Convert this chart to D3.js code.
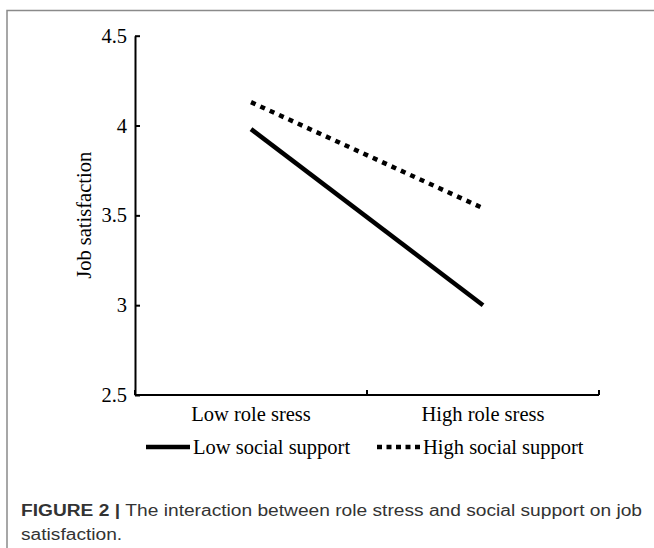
<!DOCTYPE html>
<html>
<head>
<meta charset="utf-8">
<script src="https://cdn.jsdelivr.net/npm/d3@7"></script>
<style>
  html, body { margin: 0; padding: 0; background: #fff; }
  svg { display: block; }
</style>
</head>
<body>
<svg id="chart" width="654" height="548"></svg>
<script>
// ---- data ----
const categories = ["Low role sress", "High role sress"];
const seriesNames = ["Low social support", "High social support"];
const lowSupport = [3.98, 3.00];
const highSupport = [4.13, 3.54];
const yTicks = [2.5, 3, 3.5, 4, 4.5];
const yLabel = "Job satisfaction";
const captionBold = "FIGURE 2 | ";
const captionLine1 = "The interaction between role stress and social support on job";
const captionLine2 = "satisfaction.";

const svg = d3.select("#chart");
const serif = "'Liberation Serif', 'Times New Roman', serif";
const fs = 20.5;

// frame
svg.append("path")
  .attr("d", "M7,548 L7,10.5 L654,10.5")
  .attr("fill", "none").attr("stroke", "#8a8a8a").attr("stroke-width", 1.5);

const x = d3.scaleBand().domain(categories).range([135, 599]).padding(0);
const y = d3.scaleLinear().domain([2.5, 4.5]).range([395, 35.7]);

// y axis
const gy = svg.append("g").attr("transform", "translate(135,0)")
  .call(d3.axisLeft(y).tickValues(yTicks).tickFormat(d => String(d))
    .tickSizeInner(-5).tickSizeOuter(0).tickPadding(8));
gy.select(".domain").attr("stroke", "#000").attr("stroke-width", 2);
gy.selectAll(".tick line").attr("stroke", "#000").attr("stroke-width", 2);
gy.selectAll(".tick text").attr("font-family", serif).attr("font-size", fs).attr("fill", "#000");

// x axis
const gx = svg.append("g").attr("transform", "translate(0,395)");
gx.append("line").attr("x1", x.range()[0]).attr("x2", x.range()[1])
  .attr("stroke", "#000").attr("stroke-width", 2);
const bounds = categories.map(c => x(c)).concat([x.range()[1]]);
gx.selectAll(".bt").data(bounds).join("line")
  .attr("x1", d => d).attr("x2", d => d).attr("y1", 0).attr("y2", -5)
  .attr("stroke", "#000").attr("stroke-width", 2);
gx.selectAll(".lbl").data(categories).join("text")
  .attr("x", d => x(d) + x.bandwidth() / 2).attr("y", 26)
  .attr("text-anchor", "middle").attr("font-family", serif).attr("font-size", fs)
  .text(d => d);

// y label
svg.append("text")
  .attr("transform", `translate(84,${(y(2.5) + y(4.5)) / 2}) rotate(-90)`)
  .attr("text-anchor", "middle").attr("dominant-baseline", "central")
  .attr("font-family", serif).attr("font-size", fs).text(yLabel);

// lines
const line = d3.line().x((d, i) => x(categories[i]) + x.bandwidth() / 2).y(d => y(d));
svg.append("path").datum(lowSupport).attr("d", line)
  .attr("fill", "none").attr("stroke", "#000").attr("stroke-width", 4.5);
svg.append("path").datum(highSupport).attr("d", line)
  .attr("fill", "none").attr("stroke", "#000").attr("stroke-width", 4.5)
  .attr("stroke-dasharray", "5,5.3");

// legend
const leg = svg.append("g");
const legItems = [
  { name: seriesNames[0], x0: 146, x1: 190, dash: null },
  { name: seriesNames[1], x0: 377, x1: 420, dash: "5,4.5" }
];
legItems.forEach(it => {
  leg.append("line").attr("x1", it.x0).attr("x2", it.x1).attr("y1", 447).attr("y2", 447)
    .attr("stroke", "#000").attr("stroke-width", 4.5)
    .attr("stroke-dasharray", it.dash);
  leg.append("text").attr("x", it.x1 + 3).attr("y", 454)
    .attr("font-family", serif).attr("font-size", fs).text(it.name);
});

// caption
const sans = "'Liberation Sans', Arial, sans-serif";
const c1 = svg.append("text").attr("x", 21).attr("y", 516)
  .attr("font-family", sans).attr("font-size", 16).attr("fill", "#333");
c1.append("tspan").attr("font-weight", "bold").text(captionBold);
c1.append("tspan").text(captionLine1);
const natural = c1.node().getComputedTextLength();
const ratio = 621 / natural;
c1.attr("textLength", 621).attr("lengthAdjust", "spacingAndGlyphs");
const c2 = svg.append("text").attr("x", 21).attr("y", 540)
  .attr("font-family", sans).attr("font-size", 16).attr("fill", "#333").text(captionLine2);
const n2 = c2.node().getComputedTextLength();
c2.attr("textLength", n2 * ratio).attr("lengthAdjust", "spacingAndGlyphs");
</script>
</body>
</html>
